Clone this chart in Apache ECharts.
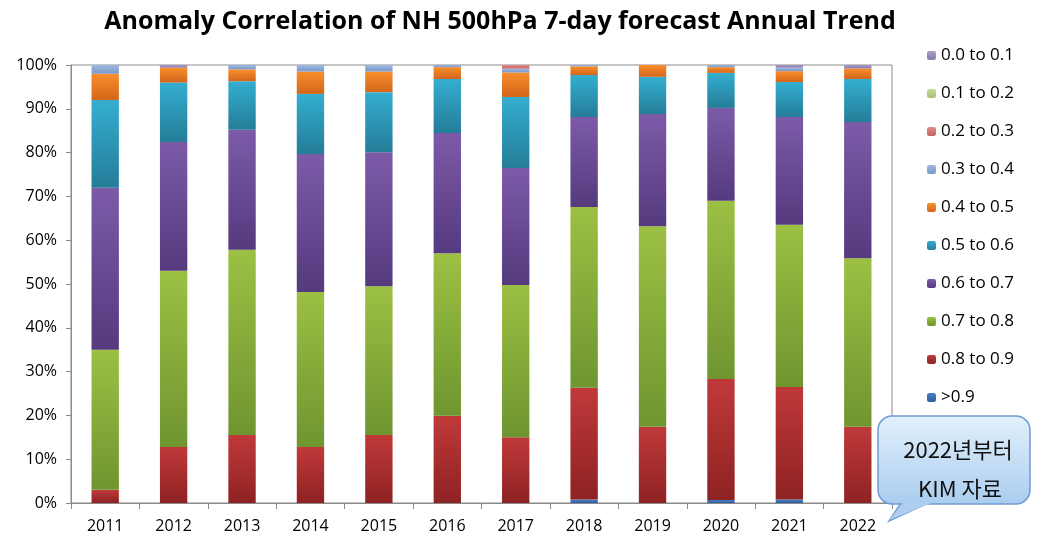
<!DOCTYPE html>
<html lang="en">
<head>
<meta charset="UTF-8">
<title>Anomaly Correlation of NH 500hPa 7-day forecast Annual Trend</title>
<script src="https://cdn.jsdelivr.net/npm/echarts@6/dist/echarts.min.js"></script>
<style>
  html, body { margin: 0; padding: 0; background: #fff; }
  #main { width: 1037px; height: 541px; }
</style>
</head>
<body>
<div id="main"></div>
<script>
// years on the x axis
var years = ['2011','2012','2013','2014','2015','2016','2017','2018','2019','2020','2021','2022'];

// share of cases (%) in each anomaly-correlation class, per year
var gt09   = [0,   0,    0,    0,    0,    0,    0,    0.8,  0,    0.7,  0.8,  0];
var r08_09 = [3,   12.8, 15.5, 12.8, 15.5, 19.9, 15,   25.5, 17.4, 27.6, 25.7, 17.4];
var r07_08 = [32,  40.2, 42.3, 35.4, 34,   37.1, 34.8, 41.3, 45.8, 40.7, 37,   38.5];
var r06_07 = [37,  29.4, 27.4, 31.5, 30.6, 27.5, 26.7, 20.5, 25.6, 21.2, 24.6, 31.1];
var r05_06 = [20,  13.6, 11.1, 13.7, 13.7, 12.3, 16.2, 9.6,  8.5,  8,    8,    9.8];
var r04_05 = [6,   3.4,  2.7,  5.1,  4.7,  2.7,  5.6,  2,    2.7,  1.3,  2.5,  2.4];
var r03_04 = [2,   0,    1,    1.5,  1.5,  0.5,  0.9,  0.3,  0,    0.5,  0.8,  0];
var r02_03 = [0,   0,    0,    0,    0,    0,    0.8,  0,    0,    0,    0,    0];
var r01_02 = [0,   0,    0,    0,    0,    0,    0,    0,    0,    0,    0,    0];
var r00_01 = [0,   0.6,  0,    0,    0,    0,    0,    0,    0,    0,    0.6,  0.8];

var yTicks = [0, 10, 20, 30, 40, 50, 60, 70, 80, 90, 100];

// bottom to top of the stack
var classes = [
  { name: '>0.9',       data: gt09,   top: '#4a7fc9', bot: '#2c5d9e' },
  { name: '0.8 to 0.9', data: r08_09, top: '#c0393a', bot: '#8e2222' },
  { name: '0.7 to 0.8', data: r07_08, top: '#9cc043', bot: '#6f9530' },
  { name: '0.6 to 0.7', data: r06_07, top: '#7c5aa8', bot: '#553a7e' },
  { name: '0.5 to 0.6', data: r05_06, top: '#34aed0', bot: '#247d98' },
  { name: '0.4 to 0.5', data: r04_05, top: '#f98e2c', bot: '#d2661a' },
  { name: '0.3 to 0.4', data: r03_04, top: '#9db8e0', bot: '#7b98c8' },
  { name: '0.2 to 0.3', data: r02_03, top: '#e28a89', bot: '#c56361' },
  { name: '0.1 to 0.2', data: r01_02, top: '#c5dc9a', bot: '#a6c274' },
  { name: '0.0 to 0.1', data: r00_01, top: '#aa9bc8', bot: '#8a7aab' }
];

var series = classes.map(function (c) {
  return {
    name: c.name,
    type: 'bar',
    stack: 'total',
    barWidth: '40%',
    data: c.data,
    itemStyle: {
      color: new echarts.graphic.LinearGradient(0, 0, 0, 1, [
        { offset: 0, color: c.top },
        { offset: 1, color: c.bot }
      ])
    }
  };
});

var legendNames = classes.map(function (c) { return c.name; }).reverse();

var myChart = echarts.init(document.getElementById('main'));
var option = {
  animation: false,
  title: {
    text: 'Anomaly Correlation of NH 500hPa 7-day forecast Annual Trend',
    left: 495,
    textAlign: 'center',
    top: 4,
    textStyle: { fontFamily: 'Open Sans', fontWeight: 'bold', fontSize: 25, color: '#000' }
  },
  legend: {
    orient: 'vertical',
    left: 922,
    top: 42,
    itemWidth: 9,
    itemHeight: 9,
    itemGap: 21,
    data: legendNames,
    textStyle: { fontFamily: 'Open Sans', fontSize: 17, color: '#000' }
  },
  grid: {
    left: 71, right: 145, top: 65, bottom: 38,
    show: true,
    borderColor: '#8a8a8a',
    borderWidth: 1
  },
  xAxis: {
    type: 'category',
    data: years,
    axisLine: { lineStyle: { color: '#8a8a8a' } },
    axisTick: { show: true, length: 6, lineStyle: { color: '#8a8a8a' } },
    axisLabel: { fontFamily: 'Open Sans', fontSize: 16, color: '#000', margin: 15 }
  },
  yAxis: {
    type: 'value',
    min: yTicks[0],
    max: yTicks[yTicks.length - 1],
    interval: 10,
    splitLine: { show: false },
    axisLine: { show: true, lineStyle: { color: '#8a8a8a' } },
    axisTick: { show: true, length: 5, lineStyle: { color: '#8a8a8a' } },
    axisLabel: { formatter: '{value}%', fontFamily: 'Open Sans', fontSize: 16, color: '#000', margin: 14 }
  },
  series: series,
  graphic: [
    {
      type: 'polygon',
      z: 100,
      shape: { points: [[903, 500], [935, 500], [889, 521]] },
      style: { fill: '#b3d3f1', stroke: '#6f9cd2', lineWidth: 1.5 }
    },
    {
      type: 'rect',
      z: 101,
      shape: { x: 878, y: 416, width: 152, height: 88, r: 14 },
      style: {
        fill: new echarts.graphic.LinearGradient(0, 0, 0, 1, [
          { offset: 0, color: '#e2f0fb' },
          { offset: 1, color: '#a9cdef' }
        ]),
        stroke: '#6f9cd2',
        lineWidth: 1.5
      }
    },
    {
      type: 'polygon',
      z: 102,
      shape: { points: [[904, 502], [934, 502], [889, 520]] },
      style: { fill: '#aecff0' }
    },
    {
      type: 'text',
      z: 103,
      x: 958, y: 450,
      style: { text: '2022년부터', font: '22px "Noto Sans CJK KR"', fill: '#111', align: 'center', verticalAlign: 'middle' }
    },
    {
      type: 'text',
      z: 103,
      x: 960, y: 489,
      style: { text: 'KIM 자료', font: '22px "Noto Sans CJK KR"', fill: '#111', align: 'center', verticalAlign: 'middle' }
    }
  ]
};
myChart.setOption(option);
</script>
</body>
</html>
